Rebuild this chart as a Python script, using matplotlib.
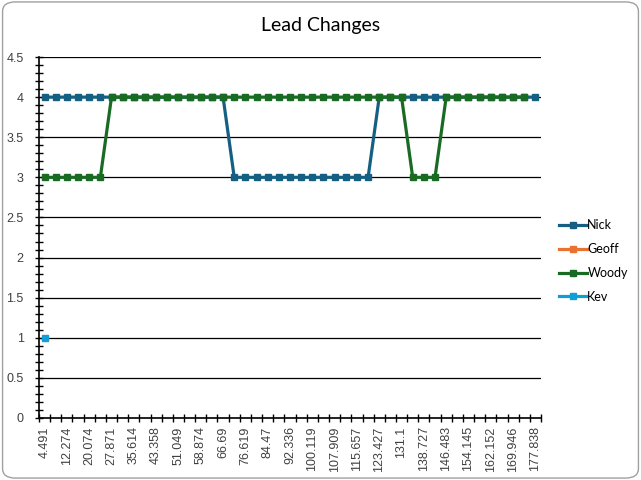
import numpy as np
import matplotlib
matplotlib.use("Agg")
import matplotlib.pyplot as plt
from matplotlib.patches import FancyBboxPatch
from matplotlib.ticker import MultipleLocator, FixedLocator, FuncFormatter

# category labels (odd entries are not shown on the axis, estimated)
times = ["4.491", "8.39", "12.274", "16.17", "20.074", "23.97", "27.871", "31.74",
         "35.614", "39.49", "43.358", "47.2", "51.049", "54.96", "58.874", "62.78",
         "66.69", "71.65", "76.619", "80.54", "84.47", "88.4", "92.336", "96.23",
         "100.119", "104.01", "107.909", "111.78", "115.657", "119.54", "123.427",
         "127.26", "131.1", "134.91", "138.727", "142.6", "146.483", "150.31",
         "154.145", "158.15", "162.152", "166.05", "169.946", "173.89", "177.838"]

nan = np.nan
nick = [4]*17 + [3]*13 + [4]*15
geoff = [nan]*45
woody = [3]*6 + [4]*27 + [3]*3 + [4]*8 + [nan]
kev = [1] + [nan]*44

series = [("Nick", nick, "#156082"),
          ("Geoff", geoff, "#E97132"),
          ("Woody", woody, "#196B24"),
          ("Kev", kev, "#0F9ED5")]

fig = plt.figure(figsize=(6.41, 4.80), dpi=100)
ax = fig.add_axes([39/641, 1-418/480, 502/641, 361/480])

x = np.arange(len(times))
for name, vals, col in series:
    ax.plot(x, vals, color=col, lw=2.3, marker="s", ms=5, label=name)

ax.set_xlim(-0.5, len(times) - 0.5)
ax.set_ylim(0, 4.5)
ax.yaxis.set_major_locator(MultipleLocator(0.5))
ax.yaxis.set_minor_locator(MultipleLocator(0.1))
ax.yaxis.set_major_formatter(FuncFormatter(lambda v, p: "%g" % v))
ax.grid(axis="y", which="major", color="black", lw=0.9)
ax.set_axisbelow(True)

ax.xaxis.set_major_locator(FixedLocator(x[::2]))
ax.set_xticklabels(times[::2], rotation=90)
ax.xaxis.set_minor_locator(FixedLocator(np.arange(-0.5, len(times), 1)))
ax.tick_params(axis="x", which="major", length=0, pad=6, labelsize=9)
ax.tick_params(axis="x", which="minor", direction="inout", length=6, width=1)
ax.tick_params(axis="y", which="both", direction="inout", length=6, width=1, labelsize=9, pad=8)

for s in ["top", "right"]:
    ax.spines[s].set_visible(False)
for s in ["left", "bottom"]:
    ax.spines[s].set_linewidth(1.2)

for lab in ax.get_xticklabels() + ax.get_yticklabels():
    lab.set_fontfamily("Liberation Sans")
    lab.set_color("#404040")

fig.text(0.5, 0.947, "Lead Changes", ha="center", va="center", fontsize=14,
         family="Lato", color="black")

leg = fig.legend(loc="center left", bbox_to_anchor=(548/641, 1-261/480), frameon=False,
                 prop={"family": "Lato", "size": 9}, handlelength=2.2,
                 handletextpad=0.05, labelspacing=0.95, markerscale=0.9)

fig.patches.append(FancyBboxPatch((0.004, 0.004), 0.992, 0.992,
                                  boxstyle="round,pad=0,rounding_size=0.02",
                                  transform=fig.transFigure, fill=False,
                                  edgecolor="#A0A0A0", lw=1))

fig.savefig("out.png", dpi=100)
